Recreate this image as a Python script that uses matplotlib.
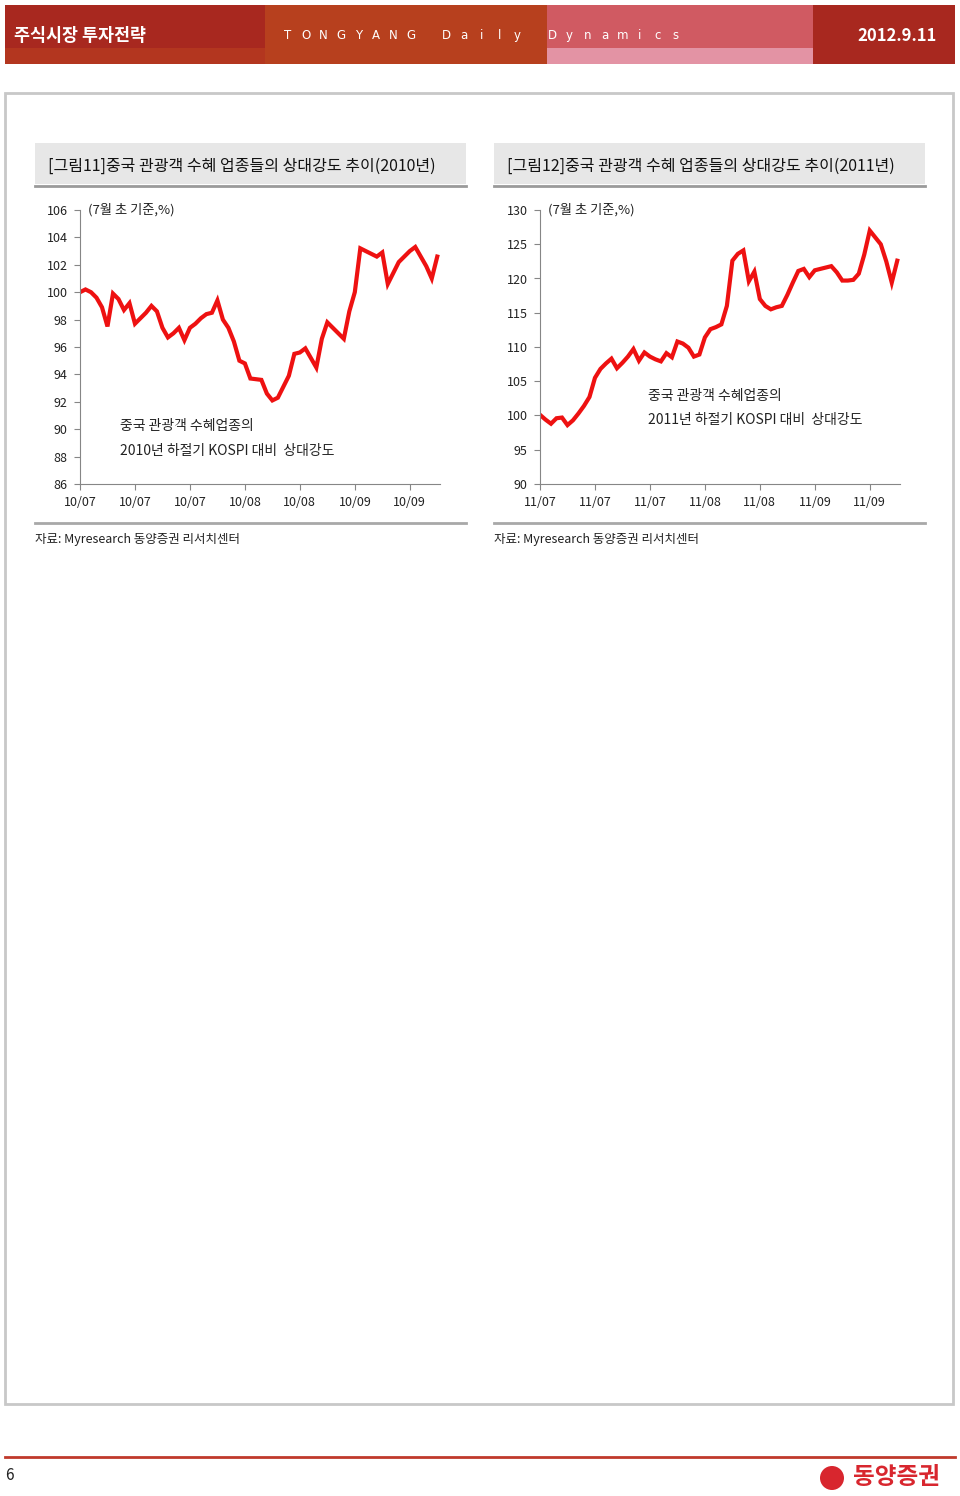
import matplotlib
matplotlib.use("Agg")
import matplotlib.pyplot as plt
from matplotlib.patches import Rectangle, Circle

plt.rcParams['font.family'] = ['Noto Sans CJK KR', 'DejaVu Sans']

# relative strength vs KOSPI, summer 2010 (index 100 = early July)
rs_2010 = [100.0, 100.2, 100.0, 99.6, 98.9, 97.5, 99.9, 99.5, 98.7, 99.2,
           97.7, 98.1, 98.5, 99.0, 98.6, 97.4, 96.7, 97.0, 97.4, 96.5,
           97.4, 97.7, 98.1, 98.4, 98.5, 99.4, 98.0, 97.4, 96.4, 95.0,
           94.8, 93.7, 93.65, 93.6, 92.6, 92.1, 92.3, 93.1, 93.9, 95.5,
           95.6, 95.9, 95.2, 94.5, 96.6, 97.8, 97.4, 97.0, 96.6, 98.6,
           100.0, 103.2, 103.0, 102.8, 102.6, 102.9, 100.6, 101.4, 102.2, 102.6,
           103.0, 103.3, 102.6, 101.9, 101.0, 102.6]

# same for summer 2011
rs_2011 = [100.1, 99.4, 98.8, 99.6, 99.7, 98.6, 99.3, 100.3, 101.4, 102.7,
           105.5, 106.8, 107.6, 108.3, 106.9, 107.7, 108.6, 109.7, 108.0, 109.2,
           108.6, 108.2, 107.9, 109.1, 108.5, 110.8, 110.5, 109.9, 108.6, 108.9,
           111.4, 112.6, 112.9, 113.3, 116.0, 122.6, 123.6, 124.1, 119.6, 121.0,
           117.0, 116.0, 115.5, 115.8, 116.0, 117.6, 119.4, 121.1, 121.4, 120.2,
           121.2, 121.4, 121.6, 121.8, 120.9, 119.7, 119.7, 119.8, 120.7, 123.5,
           127.0, 126.0, 125.0, 122.5, 119.4, 122.6]

tick_pos = [0, 10, 20, 30, 40, 50, 60]
labels_2010 = ['10/07', '10/07', '10/07', '10/08', '10/08', '10/09', '10/09']
labels_2011 = ['11/07', '11/07', '11/07', '11/08', '11/08', '11/09', '11/09']

W, H = 960, 1496
fig = plt.figure(figsize=(W / 100, H / 100), dpi=100)

# page decoration drawn in pixel coordinates
bg = fig.add_axes([0, 0, 1, 1])
bg.set_xlim(0, W)
bg.set_ylim(H, 0)
bg.axis('off')

# header band
header = [(5, 265, '#A8281F', '#B3361F'),
          (265, 547, '#B7401E', '#B7401E'),
          (547, 813, '#D05A62', '#E393A4'),
          (813, 955, '#A8281F', '#A8281F')]
for x0, x1, top, bottom in header:
    bg.add_patch(Rectangle((x0, 5), x1 - x0, 43, color=top, lw=0))
    bg.add_patch(Rectangle((x0, 48), x1 - x0, 16, color=bottom, lw=0))
bg.text(14, 36, '주식시장 투자전략', color='white', fontsize=12.5,
        fontweight='bold', va='center', ha='left')
for i, ch in enumerate('TONGYANG Daily Dynamics'):
    bg.text(288 + i * 17.6, 35, ch, color='white', fontsize=8.5,
            family='DejaVu Sans', va='center', ha='center')
bg.text(937, 36, '2012.9.11', color='white', fontsize=12,
        fontweight='bold', va='center', ha='right')

# outer frame
bg.add_patch(Rectangle((5, 93), 948, 1311, fill=False, ec='#C8C8C8', lw=2))

# footer
bg.plot([5, 955], [1457, 1457], color='#C0392B', lw=2)
bg.text(5, 1476, '6', fontsize=11, va='center', ha='left', color='#222222')
bg.add_patch(Circle((832, 1478), 12, color='#D8262E', lw=0))
bg.text(853, 1477, '동양증권', fontsize=17, fontweight='heavy',
        color='#D8262E', va='center', ha='left')

panels = [
    (35, '[그림11]중국 관광객 수혜 업종들의 상대강도 추이(2010년)'),
    (494, '[그림12]중국 관광객 수혜 업종들의 상대강도 추이(2011년)'),
]
for x0, title in panels:
    bg.add_patch(Rectangle((x0, 143), 431, 41, color='#E7E7E7', lw=0))
    bg.plot([x0, x0 + 431], [186, 186], color='#9A9A9A', lw=2)
    bg.text(x0 + 13, 166, title, fontsize=11.5, va='center', ha='left',
            color='#111111')
    bg.plot([x0, x0 + 431], [523, 523], color='#A8A8A8', lw=2)
    bg.text(x0, 539, '자료: Myresearch 동양증권 리서치센터', fontsize=9,
            style='italic', va='center', ha='left', color='#222222')


def draw_panel(left_px, values, xlabels, ylim, ystep, note_xy, note_lines):
    ax = fig.add_axes([left_px / W, 1 - 484 / H, 360 / W, 274 / H])
    ax.patch.set_alpha(0)
    ax.plot(range(len(values)), values, color='#EE1111', lw=3,
            solid_joinstyle='miter')
    ax.set_xlim(0, 65.5)
    ax.set_ylim(*ylim)
    ax.set_yticks(range(ylim[0], ylim[1] + 1, ystep))
    ax.set_xticks(tick_pos)
    ax.set_xticklabels(xlabels)
    for side in ('top', 'right'):
        ax.spines[side].set_visible(False)
    for side in ('left', 'bottom'):
        ax.spines[side].set_color('#868686')
    ax.tick_params(direction='out', length=4, color='#868686',
                   labelsize=9, labelcolor='#222222')
    ax.tick_params(axis='y', pad=5)
    ax.tick_params(axis='x', pad=5)
    ax.text(0.022, 1.0, '(7월 초 기준,%)', transform=ax.transAxes,
            fontsize=9.5, va='center', ha='left', color='#222222')
    nx, ny = note_xy
    for k, line in enumerate(note_lines):
        ax.text(nx, ny - k * 0.088, line, transform=ax.transAxes,
                fontsize=10, va='center', ha='left', color='#222222')


draw_panel(80, rs_2010, labels_2010, (86, 106), 2, (0.111, 0.21),
           ['중국 관광객 수혜업종의', '2010년 하절기 KOSPI 대비  상대강도'])
draw_panel(540, rs_2011, labels_2011, (90, 130), 5, (0.3, 0.32),
           ['중국 관광객 수혜업종의', '2011년 하절기 KOSPI 대비  상대강도'])

fig.savefig('out.png', dpi=100)
